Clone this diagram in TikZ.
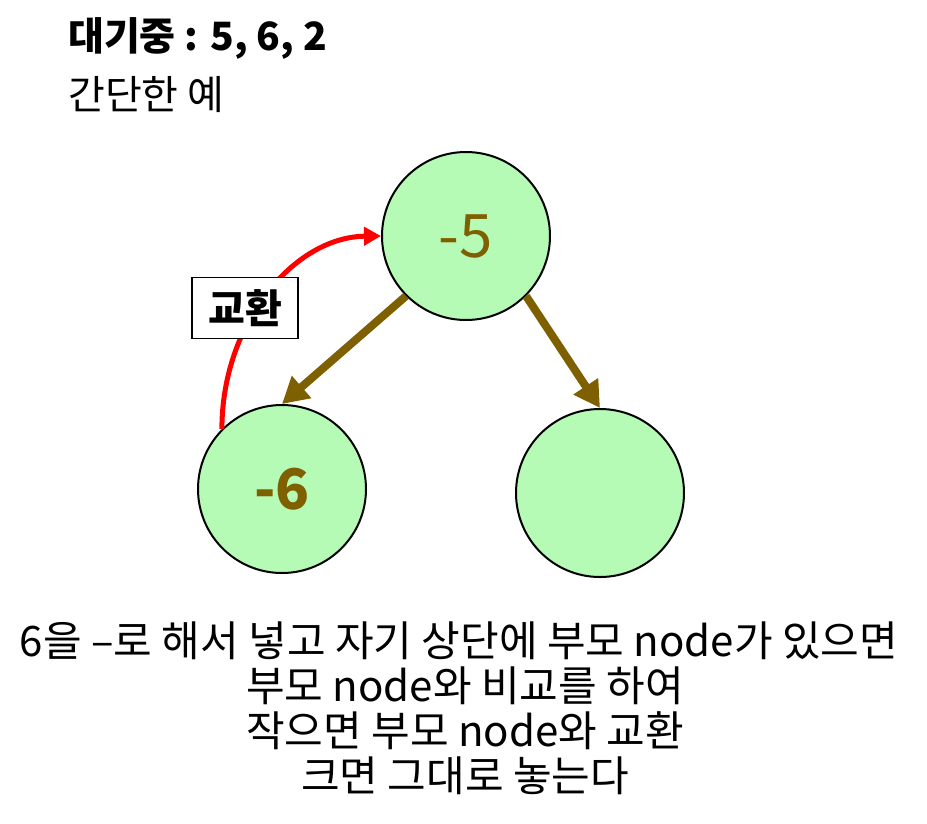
\documentclass[tikz,border=0pt]{standalone}
\usepackage{fontspec}
\setmainfont{Noto Sans CJK KR}
\usetikzlibrary{arrows.meta}
\definecolor{nodegreen}{RGB}{181,251,181}
\definecolor{keybrown}{RGB}{127,96,0}
\definecolor{swapred}{RGB}{255,0,0}
\begin{document}
\begin{tikzpicture}[x=1pt,y=-1pt,
  heapnode/.style={circle,draw=black,line width=2pt,fill=nodegreen,
    minimum size=168pt,inner sep=0pt,text=keybrown},
  treeedge/.style={draw=keybrown,line width=8pt,
    -{Triangle[length=26pt,width=28pt]}},
  swaparrow/.style={draw=swapred,line width=5pt,
    -{Triangle[length=17pt,width=18pt]}},
  tagbox/.style={draw=black,line width=1.5pt,fill=white,minimum width=106pt,
    minimum height=61pt,inner sep=0pt,font=\fontsize{40}{44}\selectfont\bfseries},
  heading/.style={anchor=base west,inner sep=0pt},
  caption/.style={anchor=base,inner sep=0pt,font=\fontsize{42}{45}\selectfont}]
\useasboundingbox (0,0) rectangle (927,823);

% headings
\node[heading,font=\fontsize{39}{44}\selectfont\bfseries] (title) at (68,50) {대기중 : 5, 6, 2};
\node[heading,font=\fontsize{40}{44}\selectfont] (sub) at (68,109) {간단한 예};

% heap nodes
\node[heapnode,font=\fontsize{60}{64}\selectfont] (top) at (466,236) {-5};
\node[heapnode,font=\fontsize{56}{60}\selectfont\bfseries] (left) at (282,489) {-6};
\node[heapnode] (right) at (600,493) {};

% parent-child edges
\draw[treeedge] (top.225) -- (left.north);
\draw[treeedge] (top.-45) -- (right.north);

% swap arc
\draw[swaparrow] (left.135) .. controls (222,323) and (294,237) .. (top.west);
\node[tagbox] (swap) at (245,308) {교환};

% explanation
\node[caption] (line1) at (459,656) {6을 –로 해서 넣고 자기 상단에 부모 node가 있으면};
\node[caption] (line2) at (465,701) {부모 node와 비교를 하여};
\node[caption] (line3) at (465,746) {작으면 부모 node와 교환};
\node[caption] (line4) at (465,791) {크면 그대로 놓는다};
\end{tikzpicture}
\end{document}
